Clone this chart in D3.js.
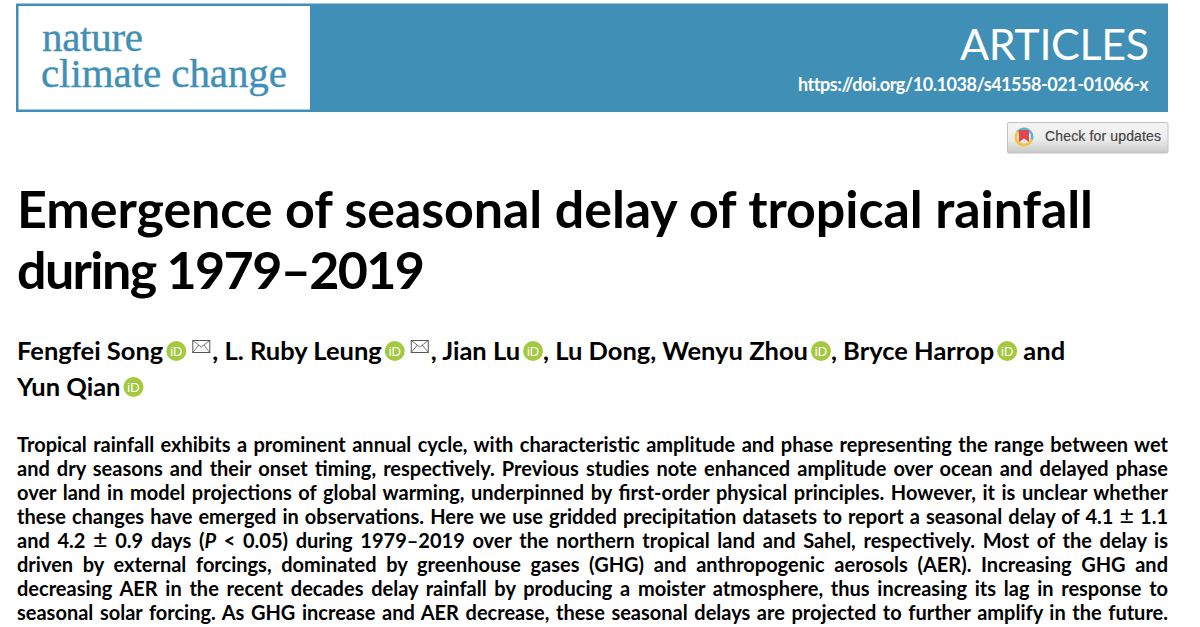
<!DOCTYPE html>
<html>
<head>
<meta charset="utf-8">
<script src="https://cdn.jsdelivr.net/npm/d3@7/dist/d3.min.js"></script>
<style>
html, body { margin: 0; padding: 0; background: #fff; }
svg { display: block; }
</style>
</head>
<body>
<div id="page"></div>
<script>
const journalLines = ['nature', 'climate change'];
const sectionLabel = 'ARTICLES';
const doiLabel = 'https://doi.org/10.1038/s41558-021-01066-x';
const updatesLabel = 'Check for updates';
const titleLines = [
    'Emergence of seasonal delay of tropical rainfall',
    'during 1979\u20132019'
];
// '#' stands for an ORCID badge, '@' for the mail icon
const authorLines = [
    ['Fengfei Song', '#', '@', ', L. Ruby Leung', '#', '@', ', Jian Lu', '#', ', Lu Dong, Wenyu Zhou', '#', ', Bryce Harrop', '#', ' and'],
    ['Yun Qian', '#']
];
const abstractLines = [
    'Tropical rainfall exhibits a prominent annual cycle, with characteristic amplitude and phase representing the range between wet',
    'and dry seasons and their onset timing, respectively. Previous studies note enhanced amplitude over ocean and delayed phase',
    'over land in model projections of global warming, underpinned by first-order physical principles. However, it is unclear whether',
    'these changes have emerged in observations. Here we use gridded precipitation datasets to report a seasonal delay of 4.1 \u00b1 1.1',
    'and 4.2 \u00b1 0.9 days (P < 0.05) during 1979\u20132019 over the northern tropical land and Sahel, respectively. Most of the delay is',
    'driven by external forcings, dominated by greenhouse gases (GHG) and anthropogenic aerosols (AER). Increasing GHG and',
    'decreasing AER in the recent decades delay rainfall by producing a moister atmosphere, thus increasing its lag in response to',
    'seasonal solar forcing. As GHG increase and AER decrease, these seasonal delays are projected to further amplify in the future.'
];

const width = 1200;
const height = 627;
const left = 17;
const right = 1168;
const blue = '#3f8fb6';
const sans = 'Lato, "Open Sans", sans-serif';

const svg = d3.select('#page').append('svg')
    .attr('width', width)
    .attr('height', height)
    .attr('viewBox', `0 0 ${width} ${height}`);

svg.append('rect').attr('width', width).attr('height', height).attr('fill', '#fff');

const defs = svg.append('defs');
const btnGrad = defs.append('linearGradient').attr('id', 'btnGrad')
    .attr('x1', 0).attr('x2', 0).attr('y1', 0).attr('y2', 1);
btnGrad.append('stop').attr('offset', '0%').attr('stop-color', '#f4f4f4');
btnGrad.append('stop').attr('offset', '55%').attr('stop-color', '#ececec');
btnGrad.append('stop').attr('offset', '100%').attr('stop-color', '#c9c9c9');

// stretch a text to a given width, through letter or word spacing
function fit(text, target, prop) {
    const str = text.text();
    const gaps = prop === 'word-spacing' ? str.split(' ').length - 1 : str.length - 1;
    const w = text.node().getComputedTextLength();
    text.style(prop, ((target - w) / gaps) + 'px');
    return text;
}

// ----------------------------------------
// Header band
// ----------------------------------------
svg.append('rect')
    .attr('x', 16).attr('y', 3.5)
    .attr('width', right - 16).attr('height', 108.5)
    .attr('fill', blue);
svg.append('rect')
    .attr('x', 18.5).attr('y', 6)
    .attr('width', 291.5).attr('height', 103.5)
    .attr('fill', '#fff');

const logoY = [51, 87];
const logoX = [42, 41];
const logoW = [101, 246];
svg.selectAll('text.logo')
    .data(journalLines)
    .enter().append('text')
    .attr('class', 'logo')
    .attr('x', (d, i) => logoX[i])
    .attr('y', (d, i) => logoY[i])
    .attr('font-family', '"Liberation Serif", serif')
    .attr('font-size', 41)
    .attr('fill', blue)
    .attr('stroke', blue)
    .attr('stroke-width', 0.4)
    .text(d => d)
    .each(function (d, i) { fit(d3.select(this), logoW[i], 'letter-spacing'); });

svg.append('text')
    .attr('x', 960).attr('y', 60)
    .attr('font-family', sans)
    .attr('font-weight', 400)
    .attr('font-size', 43)
    .attr('fill', '#fff')
    .text(sectionLabel)
    .call(fit, 189, 'letter-spacing');

svg.append('text')
    .attr('x', 798).attr('y', 91)
    .attr('font-family', sans)
    .attr('font-weight', 700)
    .attr('font-size', 18)
    .attr('fill', '#fff')
    .text(doiLabel)
    .call(fit, 350, 'letter-spacing');

// ----------------------------------------
// Check for updates button
// ----------------------------------------
const btn = svg.append('g').attr('transform', 'translate(1007,122)');
btn.append('rect')
    .attr('x', 0.5).attr('y', 0.5)
    .attr('width', 160.5).attr('height', 30.5)
    .attr('rx', 1.5)
    .attr('fill', 'url(#btnGrad)')
    .attr('stroke', '#c2c2c2');

const arc = d3.arc().innerRadius(6.7).outerRadius(9.5);
const badge = btn.append('g').attr('transform', 'translate(17,15)');
badge.append('path')
    .attr('d', arc({startAngle: -0.9, endAngle: 1.9}))
    .attr('fill', '#58b7cf');
badge.append('path')
    .attr('d', arc({startAngle: 1.9, endAngle: 5.4}))
    .attr('fill', '#f0c544');
badge.append('path')
    .attr('d', 'M-5,-7 L5,-7 L5,5 L0,1.5 L-5,5 Z')
    .attr('fill', '#e2474d');

btn.append('text')
    .attr('x', 38).attr('y', 19)
    .attr('font-family', '"Liberation Sans", Arial, sans-serif')
    .attr('font-size', 14)
    .attr('font-weight', 400)
    .attr('stroke', '#444')
    .attr('stroke-width', 0.2)
    .attr('fill', '#444')
    .text(updatesLabel)
    .call(fit, 116, 'letter-spacing');

// ----------------------------------------
// Title
// ----------------------------------------
const titleY = d3.scaleLinear().domain([0, 1]).range([228, 289]);
const titleW = [1076, 408];
svg.selectAll('text.title')
    .data(titleLines)
    .enter().append('text')
    .attr('class', 'title')
    .attr('x', left)
    .attr('y', (d, i) => titleY(i))
    .attr('font-family', sans)
    .attr('font-weight', 700)
    .attr('font-size', 52)
    .attr('fill', '#000')
    .text(d => d)
    .each(function (d, i) { fit(d3.select(this), titleW[i], 'letter-spacing'); });

// ----------------------------------------
// Authors
// ----------------------------------------
const authorY = d3.scaleLinear().domain([0, 1]).range([360, 396]);

function orcid(x, y) {
    const g = svg.append('g').attr('transform', `translate(${x},${y})`);
    g.append('circle').attr('r', 10).attr('fill', '#a4c83f');
    g.append('text')
        .attr('text-anchor', 'middle').attr('y', 4.5)
        .attr('font-family', '"Liberation Sans", sans-serif')
        .attr('font-size', 13)
        .attr('fill', '#fff')
        .text('iD');
}

function mail(x, y) {
    const g = svg.append('g').attr('transform', `translate(${x},${y})`);
    g.append('rect')
        .attr('x', 0.5).attr('y', 0.5)
        .attr('width', 17).attr('height', 12)
        .attr('fill', '#fff')
        .attr('stroke', '#555');
    g.append('path')
        .attr('d', 'M0.5,0.5 L9,7 L17.5,0.5 M0.5,12.5 L6.5,5 M17.5,12.5 L11.5,5')
        .attr('fill', 'none')
        .attr('stroke', '#555')
        .attr('stroke-width', 0.8);
}

authorLines.forEach((parts, i) => {
    const y = authorY(i);
    let cursor = left;
    parts.forEach(part => {
        if (part === '#') {
            orcid(cursor + 13, y - 9);
            cursor += 23;
        } else if (part === '@') {
            mail(cursor + 6, y - 20);
            cursor += 26;
        } else {
            const t = svg.append('text')
                .attr('x', cursor).attr('y', y)
                .attr('font-family', sans)
                .attr('font-weight', 700)
                .attr('font-size', 25.5)
                .attr('fill', '#000')
                .style('white-space', 'pre')
                .text(part);
            cursor += t.node().getComputedTextLength();
        }
    });
});

// ----------------------------------------
// Abstract
// ----------------------------------------
const abstractY = d3.scaleLinear()
    .domain([0, abstractLines.length - 1])
    .range([452, 620]);

abstractLines.forEach((line, i) => {
    const t = svg.append('text')
        .attr('x', left)
        .attr('y', abstractY(i))
        .attr('font-family', sans)
        .attr('font-weight', 700)
        .attr('font-size', 20)
        .attr('fill', '#000');
    // italic P and the thin plus-minus go in their own tspans
    line.split(/(\u00b1|P(?= <))/).forEach(part => {
        const s = t.append('tspan').text(part);
        if (part === 'P') s.attr('font-style', 'italic');
        if (part === '\u00b1') s.attr('font-weight', 400).attr('font-size', 25);
    });
    fit(t, right - left, 'word-spacing');
});
</script>
</body>
</html>
